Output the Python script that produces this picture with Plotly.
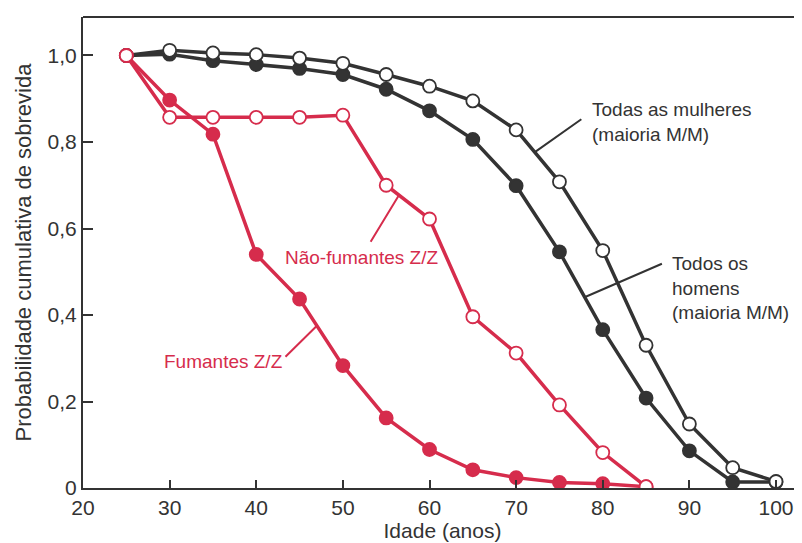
import plotly.graph_objects as go

ages = [25, 30, 35, 40, 45, 50, 55, 60, 65, 70, 75, 80, 85, 90, 95, 100]
mulheres = [1.0, 1.012, 1.006, 1.002, 0.994, 0.982, 0.956, 0.929, 0.895, 0.828, 0.708, 0.549, 0.330, 0.148, 0.047, 0.015]
homens = [1.0, 1.003, 0.988, 0.979, 0.970, 0.956, 0.922, 0.872, 0.806, 0.699, 0.546, 0.366, 0.208, 0.086, 0.014, 0.014]

ages_z = [25, 30, 35, 40, 45, 50, 55, 60, 65, 70, 75, 80, 85]
nao_fumantes = [1.0, 0.857, 0.857, 0.857, 0.857, 0.862, 0.700, 0.622, 0.396, 0.312, 0.192, 0.082, 0.003]
fumantes = [1.0, 0.897, 0.818, 0.540, 0.437, 0.283, 0.162, 0.089, 0.042, 0.024, 0.013, 0.010, 0.003]

x_ticks = [20, 30, 40, 50, 60, 70, 80, 90, 100]
y_ticks = [0, 0.2, 0.4, 0.6, 0.8, 1.0]
y_ticktext = ["0", "0,2", "0,4", "0,6", "0,8", "1,0"]

BLACK = "#333333"
RED = "#d62c4c"
FONT = "Liberation Sans, Arial, sans-serif"

fig = go.Figure()

def add_series(x, y, color, filled):
    fig.add_trace(go.Scatter(
        x=x, y=y, mode="lines+markers",
        line=dict(color=color, width=3.5),
        marker=dict(symbol="circle", size=13,
                    color=color if filled else "white",
                    line=dict(color=color, width=1.8)),
        showlegend=False, hoverinfo="skip"))

add_series(ages, homens, BLACK, True)
add_series(ages, mulheres, BLACK, False)
add_series(ages_z, fumantes, RED, True)
add_series(ages_z, nao_fumantes, RED, False)

def leader(x0, y0, x1, y1, color):
    fig.add_annotation(x=x1, y=y1, ax=x0, ay=y0, xref="x", yref="y",
                       axref="x", ayref="y", text="", showarrow=True,
                       arrowhead=0, arrowwidth=2, arrowcolor=color)

def label(x, y, text, color):
    fig.add_annotation(x=x, y=y, xref="x", yref="y", text=text, showarrow=False,
                       xanchor="left", yanchor="middle", align="left",
                       font=dict(family=FONT, size=19, color=color))

# Todas as mulheres
leader(77.7, 0.855, 72.2, 0.777, BLACK)
label(78.5, 0.846, "Todas as mulheres<br>(maioria M/M)", BLACK)
# Todos os homens
leader(87.0, 0.520, 77.9, 0.441, BLACK)
label(87.8, 0.462, "Todos os<br>homens<br>(maioria M/M)", BLACK)
# Não-fumantes Z/Z
leader(53.1, 0.566, 56.5, 0.678, RED)
fig.add_annotation(x=52.1, y=0.534, text="Não-fumantes Z/Z", showarrow=False,
                   xanchor="center", yanchor="middle",
                   font=dict(family=FONT, size=19, color=RED))
# Fumantes Z/Z
leader(43.2, 0.300, 47.0, 0.375, RED)
fig.add_annotation(x=36.2, y=0.293, text="Fumantes Z/Z", showarrow=False,
                   xanchor="center", yanchor="middle",
                   font=dict(family=FONT, size=19, color=RED))

# top frame line
fig.add_shape(type="line", xref="paper", yref="paper", x0=0, x1=1, y0=1, y1=1,
              line=dict(color=BLACK, width=2))

# page body has an 8px default margin: size and margins compensate for it
fig.update_layout(
    width=794, height=535,
    margin=dict(l=75, r=0, t=9, b=55),
    paper_bgcolor="white", plot_bgcolor="white",
    font=dict(family=FONT, size=21, color=BLACK),
    xaxis=dict(range=[20, 103], tickvals=x_ticks, ticks="inside", ticklen=8,
               tickwidth=2, tickcolor=BLACK, showline=True, linewidth=2,
               linecolor=BLACK, showgrid=False, zeroline=False,
               title=dict(text="Idade (anos)", font=dict(size=21), standoff=2),
               tickfont=dict(size=21)),
    yaxis=dict(range=[0, 1.089], tickvals=y_ticks, ticktext=y_ticktext,
               ticks="inside", ticklen=10, tickwidth=2, tickcolor=BLACK,
               showline=True, linewidth=2, linecolor=BLACK, showgrid=False,
               zeroline=False,
               title=dict(text="Probabilidade cumulativa de sobrevida",
                          font=dict(size=22), standoff=10),
               tickfont=dict(size=21)),
)

fig.write_html("out.html")
